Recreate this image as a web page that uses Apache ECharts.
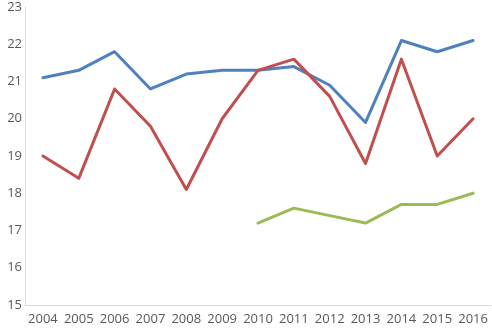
<!DOCTYPE html>
<html><head><meta charset="utf-8">
<script src="https://cdn.jsdelivr.net/npm/echarts@6/dist/echarts.min.js"></script>
<style>html,body{margin:0;padding:0;background:#fff}#c{width:492px;height:328px}</style>
</head><body><div id="c"></div>
<script>
var years = ['2004','2005','2006','2007','2008','2009','2010','2011','2012','2013','2014','2015','2016'];
var blueValues = [21.1,21.3,21.8,20.8,21.2,21.3,21.3,21.4,20.9,19.9,22.1,21.8,22.1];
var redValues = [19.0,18.4,20.8,19.8,18.1,20.0,21.3,21.6,20.6,18.8,21.6,19.0,20.0];
var greenValues = [null,null,null,null,null,null,17.2,17.6,17.4,17.2,17.7,17.7,18.0];

var chart = echarts.init(document.getElementById('c'), null, {renderer:'canvas'});
var font = {color:'#595959', fontSize:13, fontFamily:'Open Sans'};
function line(data, color){
  return {type:'line', data:data, symbol:'none', connectNulls:false,
    lineStyle:{color:color, width:3, cap:'round', join:'round'}, itemStyle:{color:color}};
}
chart.setOption({
  animation:false,
  grid:{left:25, right:1, top:7, bottom:23},
  xAxis:{type:'category', data:years, boundaryGap:true,
    axisLine:{lineStyle:{color:'#D9D9D9', width:1}}, axisTick:{show:false},
    axisLabel:Object.assign({margin:8, interval:0}, font)},
  yAxis:{type:'value', min:15, max:23, interval:1,
    axisLine:{show:true, lineStyle:{color:'#D9D9D9', width:1}}, axisTick:{show:false},
    splitLine:{show:false},
    axisLabel:Object.assign({margin:3, align:'right'}, font)},
  series:[line(blueValues,'#4F81BD'), line(redValues,'#C0504D'), line(greenValues,'#9BBB59')]
});
</script></body></html>
